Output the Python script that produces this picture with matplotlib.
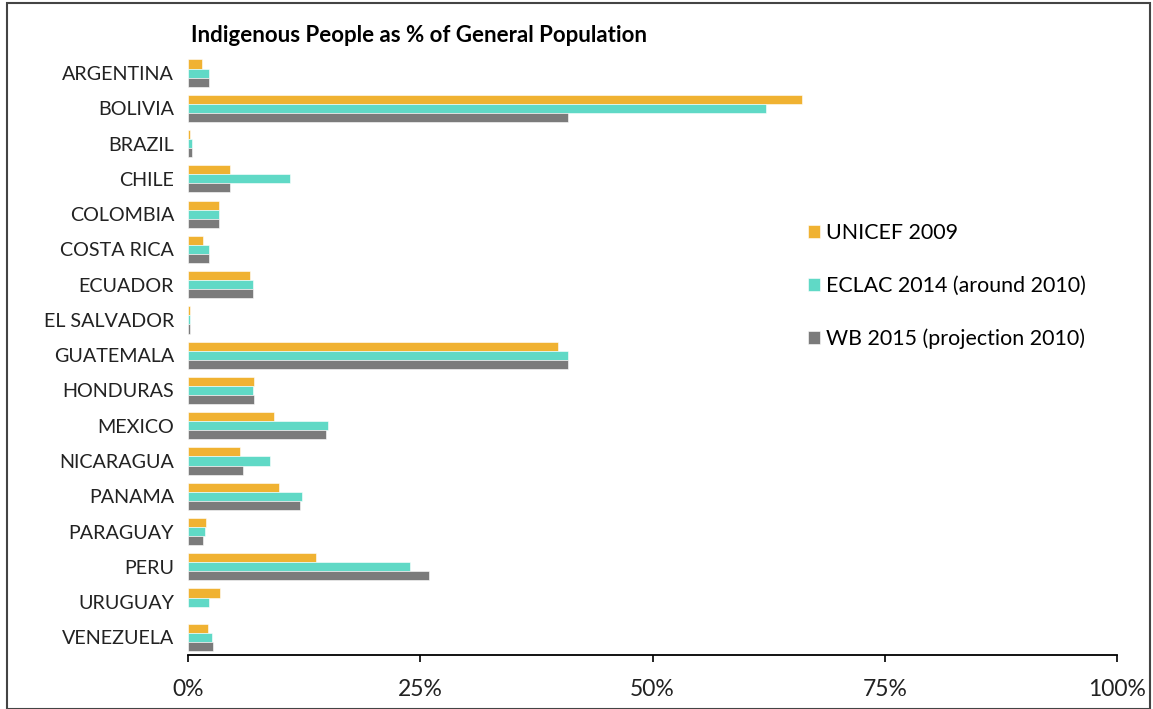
import matplotlib
matplotlib.use("Agg")
import matplotlib.pyplot as plt
import numpy as np
from matplotlib.patches import Rectangle

countries = ["ARGENTINA", "BOLIVIA", "BRAZIL", "CHILE", "COLOMBIA", "COSTA RICA",
             "ECUADOR", "EL SALVADOR", "GUATEMALA", "HONDURAS", "MEXICO", "NICARAGUA",
             "PANAMA", "PARAGUAY", "PERU", "URUGUAY", "VENEZUELA"]
unicef_2009 = [1.5, 66.1, 0.2, 4.5, 3.3, 1.6, 6.7, 0.2, 39.8, 7.1, 9.3, 5.6, 9.8, 1.9, 13.8, 3.4, 2.2]
eclac_2014 = [2.3, 62.2, 0.4, 11.0, 3.3, 2.3, 7.0, 0.2, 40.9, 7.0, 15.1, 8.8, 12.3, 1.8, 23.9, 2.3, 2.6]
wb_2015 = [2.3, 40.9, 0.4, 4.5, 3.3, 2.3, 7.0, 0.2, 40.9, 7.1, 14.9, 5.9, 12.1, 1.6, 25.9, 0.0, 2.7]
series_names = ["UNICEF 2009", "ECLAC 2014 (around 2010)", "WB 2015 (projection 2010)"]
colors = ["#F0B232", "#60D9C6", "#7B7B7B"]
xticks = [0, 25, 50, 75, 100]
xtick_labels = ["0%", "25%", "50%", "75%", "100%"]
title = "Indigenous People as % of General Population"

plt.rcParams['font.family'] = ['Lato', 'DejaVu Sans']

fig = plt.figure(figsize=(11.53, 7.09), dpi=100)
ax = fig.add_axes([188/1153, 1-655/709, (1117-188)/1153, (655-55.4)/709])

y = np.arange(len(countries))
h = 0.257
for k, (vals, name, c) in enumerate(zip([unicef_2009, eclac_2014, wb_2015], series_names, colors)):
    ax.barh(y + (k-1)*h, vals, height=h, color=c, edgecolor="white", linewidth=0.4, label=name)

ax.set_ylim(len(countries)-0.5, -0.5)
ax.set_xlim(0, 100)
ax.set_yticks(y)
ax.set_yticklabels(countries, fontsize=14.2, color="#222222")
ax.set_xticks(xticks)
ax.set_xticklabels(xtick_labels, fontsize=16.5, color="#222222")
ax.tick_params(axis="y", length=0, pad=10)
ax.tick_params(axis="x", length=5, direction="out", width=1.2, pad=12)
for s in ["top", "right", "left"]:
    ax.spines[s].set_visible(False)
ax.spines["bottom"].set_linewidth(1.3)

fig.text(191/1153, 1-36/709, title, fontsize=16, fontweight="bold", va="center", ha="left")

leg = ax.legend(loc="upper left", bbox_to_anchor=(808/1153, 1-223/709), bbox_transform=fig.transFigure,
                frameon=False, fontsize=15.4, handlelength=0.55, handleheight=0.55,
                handletextpad=0.3, labelspacing=1.54, borderpad=0, borderaxespad=0)

fig.patches.append(Rectangle((7/1153, 0), (1150-7)/1153, 1-3/709, transform=fig.transFigure,
                             fill=False, edgecolor="#444444", linewidth=1.5))

fig.savefig("out.png", dpi=100)
